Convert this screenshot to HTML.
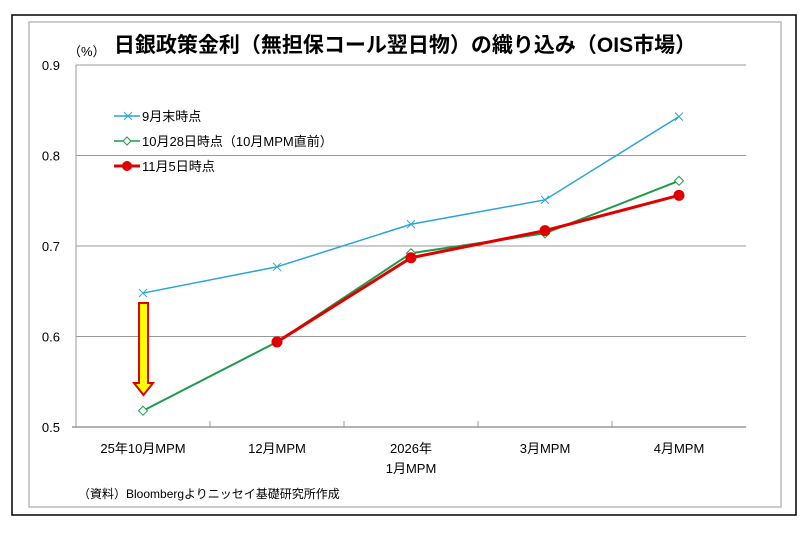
<!DOCTYPE html>
<html><head><meta charset="utf-8"><style>
body{margin:0;background:#fff;width:806px;height:533px;overflow:hidden;font-family:"Liberation Sans","Noto Sans CJK JP",sans-serif}
</style></head><body>
<svg width="806" height="533" viewBox="0 0 806 533" xmlns="http://www.w3.org/2000/svg">
<rect x="12" y="15" width="784" height="500" fill="#fff" stroke="#000" stroke-width="1.5"/>
<rect x="29" y="22" width="752" height="485" fill="#fff" stroke="#bbb" stroke-width="1.5"/>
<text x="405" y="52" text-anchor="middle" font-size="21" font-weight="bold" font-family="'Liberation Sans','Noto Sans CJK JP',sans-serif">日銀政策金利（無担保コール翌日物）の織り込み（OIS市場）</text>
<text x="68" y="56" font-size="13" font-family="'Liberation Sans','Noto Sans CJK JP',sans-serif">（%）</text>
<g id="grid"></g><g id="axes"></g><g id="series"></g>
<g>
<polygon points="139,303 148,303 148,383 153,383 143.5,395 134,383 139,383" fill="#ffff00" stroke="#e00000" stroke-width="2"/>
</g>
<g font-size="13" font-family="'Liberation Sans','Noto Sans CJK JP',sans-serif">
<g><line x1="114" y1="116" x2="140" y2="116" stroke="#29a3d8" stroke-width="1.5"/><path d="M124,112l8,8M124,120l8,-8" stroke="#29a3d8"/><text x="142" y="121">9月末時点</text></g>
<g><line x1="114" y1="141" x2="140" y2="141" stroke="#1e9a4a" stroke-width="1.5"/><path d="M127,137l4,4l-4,4l-4,-4z" fill="#fff" stroke="#1e9a4a"/><text x="142" y="146">10月28日時点（10月MPM直前）</text></g>
<g><line x1="114" y1="166" x2="140" y2="166" stroke="#e00000" stroke-width="3"/><circle cx="127" cy="166" r="5" fill="#e00000"/><text x="142" y="171">11月5日時点</text></g>
</g>
<text x="78" y="498" font-size="12" font-family="'Liberation Sans','Noto Sans CJK JP',sans-serif">（資料）Bloombergよりニッセイ基礎研究所作成</text>
</svg>
<script>
const categories=[["25年10月MPM"],["12月MPM"],["2026年","1月MPM"],["3月MPM"],["4月MPM"]];
const sepValues=[0.648,0.677,0.724,0.751,0.843];
const oct28Values=[0.518,0.594,0.692,0.714,0.772];
const nov5Values=[null,0.594,0.687,0.717,0.756];
const yTicks=[0.5,0.6,0.7,0.8,0.9];
const NS="http://www.w3.org/2000/svg";
const X0=76,X1=746,Y0=427,Y1=65,ymin=0.5,ymax=0.9;
const band=(X1-X0)/categories.length;
const xs=i=>X0+band*(i+0.5);
const ys=v=>Y0-(v-ymin)/(ymax-ymin)*(Y0-Y1);
function mk(t,a,p){const e=document.createElementNS(NS,t);for(const k in a)e.setAttribute(k,a[k]);p.appendChild(e);return e;}
const grid=document.getElementById('grid'),axes=document.getElementById('axes'),ser=document.getElementById('series');
yTicks.forEach(v=>{
 if(v>ymin){const l=mk('line',{x1:X0,x2:X1,y1:ys(v),y2:ys(v),stroke:'#999','stroke-width':1},grid);
 
 }
 const t=mk('text',{x:X0-16,y:ys(v)+5,'text-anchor':'end','font-size':13},axes);t.textContent=v.toFixed(1);
 
 
});
const ya=mk('line',{x1:X0,x2:X0,y1:Y1,y2:Y0,stroke:'#999'},axes);


const xa=mk('line',{x1:X0-4,x2:X1,y1:Y0,y2:Y0,stroke:'#999','stroke-width':1.5},axes);


categories.forEach((c,i)=>{
 if(i>0){const tk=mk('line',{x1:X0+band*i,x2:X0+band*i,y1:Y0,y2:Y0-6,stroke:'#999'},axes);
 
 }
 const t=mk('text',{x:xs(i),y:Y0+26,'text-anchor':'middle','font-size':13,'font-family':"'Liberation Sans','Noto Sans CJK JP',sans-serif"},axes);
 
 
 c.forEach((s,j)=>{const ts=mk('tspan',{x:xs(i),dy:j?20:0},t);ts.textContent=s;});
});
function line(vals,color,w,name){
 const pts=vals.map((v,i)=>v==null?null:[xs(i),ys(v)]).filter(p=>p);
 const pl=mk('polyline',{points:pts.map(p=>p.join(',')).join(' '),fill:'none',stroke:color,'stroke-width':w},ser);
 
 
 return pts;
}
line(sepValues,'#29a3d8',1.5,'sep').forEach(([x,y])=>{
 const m=mk('path',{d:`M${x-4},${y-4}l8,8M${x-4},${y+4}l8,-8`,stroke:'#29a3d8','stroke-width':1},ser);
 
 
});
line(oct28Values,'#1e9a4a',2,'oct28').forEach(([x,y])=>{
 const m=mk('path',{d:`M${x},${y-4.5}l4.5,4.5l-4.5,4.5l-4.5,-4.5z`,fill:'#fff',stroke:'#1e9a4a'},ser);
 
 
});
line(nov5Values,'#e00000',3,'nov5').forEach(([x,y])=>{
 const m=mk('circle',{cx:x,cy:y,r:5.5,fill:'#e00000'},ser);
 
 
});
</script>
</body></html>
